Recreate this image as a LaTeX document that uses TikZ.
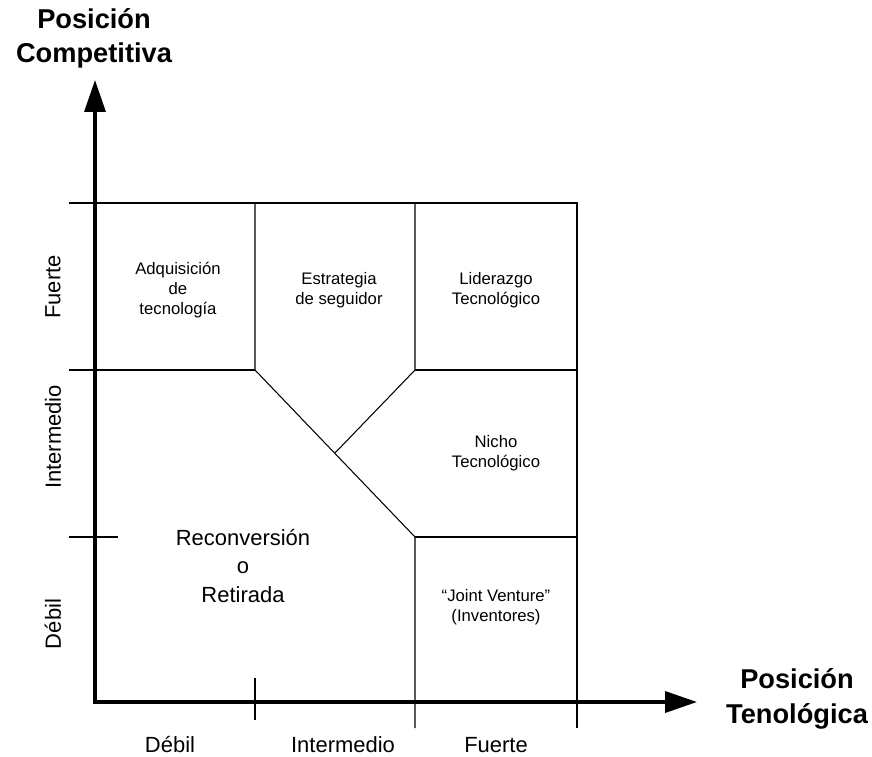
\documentclass[tikz,border=0pt]{standalone}
\usepackage{fontspec}
\setmainfont{Liberation Sans}
\usetikzlibrary{positioning,arrows.meta}

\begin{document}
\begin{tikzpicture}[x=0.02cm, y=-0.02cm,
  axis/.style={line width=2pt, {Triangle[length=6.4mm, width=4.2mm]}-{Triangle[length=6.4mm, width=4.2mm]}},
  grid/.style={line width=0.6pt},
  title/.style={font=\bfseries\fontsize{15.5}{19.5}\selectfont, align=center},
  level/.style={font=\fontsize{12.5}{15}\selectfont},
  cell/.style={font=\fontsize{9.5}{11.2}\selectfont, align=center},
  big/.style={font=\fontsize{12.5}{16}\selectfont, align=center}]
\useasboundingbox (0,0) rectangle (872,757);
% axes
\coordinate (o) at (95,702);
\coordinate (ytip) at (95,80);
\coordinate (xtip) at (697,702);
\draw[axis] (ytip) -- (o) -- (xtip);
% grid
\coordinate (a1) at (255,370);
\coordinate (a2) at (415,370);
\coordinate (a3) at (415,537);
\coordinate (mid) at (335,453);
\draw[grid] (69,203) -- (577,203) -- (577,728);
\draw[grid] (69,370) -- (a1);
\draw[grid] (a2) -- (577,370);
\draw[grid] (69,537) -- (118,537);
\draw[grid] (a3) -- (577,537);
\draw[grid] (255,203) -- (a1) -- (a3) -- (415,728);
\draw[grid] (415,203) -- (a2) -- (mid);
\draw[grid] (255,678) -- (255,720);
% titles
\node[title] (ytitle) at (94,38) {Posición\\Competitiva};
\node[title] (xtitle) at (797,699) {Posición\\Tenológica};
% levels
\node[level, anchor=base] (xd) at (170,752) {Débil};
\node[level, anchor=base] (xi) at (343,752) {Intermedio};
\node[level, anchor=base] (xf) at (496,752) {Fuerte};
\node[level, rotate=90] (yf) at (53,287) {Fuerte};
\node[level, rotate=90] (yi) at (53,437) {Intermedio};
\node[level, rotate=90] (yd) at (53,624) {Débil};
% cells
\node[cell] (adq) at (178,290) {Adquisición\\de\\tecnología};
\node[cell] (seg) at (339,290) {Estrategia\\de seguidor};
\node[cell] (lid) at (496,290) {Liderazgo\\Tecnológico};
\node[cell] (nic) at (496,453) {Nicho\\Tecnológico};
\node[cell] (jv) at (496,607) {``Joint Venture''\\(Inventores)};
\node[big] (rec) at (243,566) {Reconversión\\o\\Retirada};
\end{tikzpicture}
\end{document}
